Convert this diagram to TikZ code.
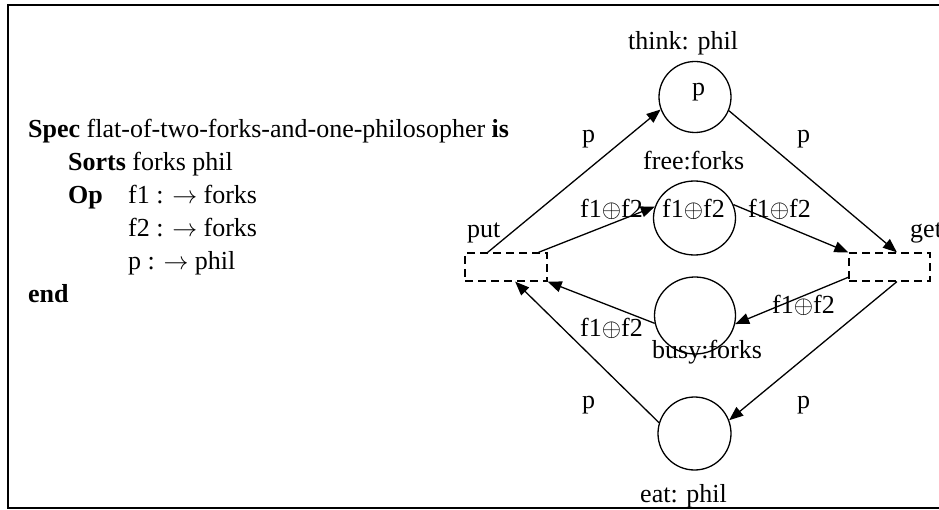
\documentclass[tikz,border=0pt]{standalone}
\usepackage{fontspec}
\setmainfont{Liberation Serif}
\usetikzlibrary{arrows.meta,shapes.geometric,calc}
\begin{document}
\begin{tikzpicture}[x=1pt,y=-1pt,
  txt/.style={font=\fontsize{26}{31}\selectfont, inner sep=0pt, anchor=base west},
  place/.style={draw, ellipse, line width=1.3pt, inner sep=0pt},
  trans/.style={draw, rectangle, line width=1.3pt, dash pattern=on 8pt off 5pt, inner sep=0pt, minimum height=28pt},
  arc/.style={line width=1.3pt, -{Triangle[length=14pt,width=11pt]}}]
\useasboundingbox (0,0) rectangle (939,510);
\clip (0,0) rectangle (939,510);
\draw[line width=2pt] (8,5) rectangle (960,508);

% places
\node[place, minimum width=72pt, minimum height=71pt] (think) at (695,97) {};
\node[place, minimum width=82pt, minimum height=74pt] (free) at (694.5,218) {};
\node[place, minimum width=81pt, minimum height=77pt] (busy) at (695,315.5) {};
\node[place, minimum width=73pt, minimum height=73pt] (eat) at (694.5,433.5) {};

% transitions
\node[trans, minimum width=82pt] (put) at (506,267) {};
\node[trans, minimum width=81pt] (get) at (889.5,267) {};

% arcs
\draw[arc] ($(put.north west)!0.28!(put.north east)$) -- (think.200);
\draw[arc] ($(put.north west)!0.89!(put.north east)$) -- (free.164);
\draw[arc] (think.338) -- ($(get.north west)!0.59!(get.north east)$);
\draw[arc] (free.19) -- (get.north west);
\draw[arc] ($(get.west)!0.7!(get.south west)$) -- (busy.348);
\draw[arc] (busy.191) -- (put.south east);
\draw[arc] (eat.163) -- ($(put.south west)!0.61!(put.south east)$);
\draw[arc] ($(get.south west)!0.59!(get.south east)$) -- (eat.21);

% labels
\node[txt] (lthink) at (628,50) {think: phil};
\node[txt] (ptok) at (692,96) {p};
\node[txt] (lp1) at (582,143) {p};
\node[txt] (lp2) at (797,143) {p};
\node[txt] (lfree) at (643,170) {free:forks};
\node[txt] (w1) at (580,218) {f1${\oplus}$f2};
\node[txt] (w2) at (662,218) {f1${\oplus}$f2};
\node[txt] (w3) at (748,218) {f1${\oplus}$f2};
\node[txt] (lput) at (467,238) {put};
\node[txt] (lget) at (910,238) {get};
\node[txt] (w4) at (772,313) {f1${\oplus}$f2};
\node[txt] (w5) at (580,337) {f1${\oplus}$f2};
\node[txt] (lbusy) at (652,359) {busy:forks};
\node[txt] (lp3) at (582,408) {p};
\node[txt] (lp4) at (797,408) {p};
\node[txt] (leat) at (640,502) {eat: phil};

% specification
\node[txt] (s1) at (28,138) {\textbf{Spec} flat-of-two-forks-and-one-philosopher \textbf{is}};
\node[txt] (s2) at (68,171) {\textbf{Sorts} forks phil};
\node[txt] (s3) at (68,204) {\textbf{Op}};
\node[txt] (s4) at (128,204) {f1 : $\rightarrow$ forks};
\node[txt] (s5) at (128,237) {f2 : $\rightarrow$ forks};
\node[txt] (s6) at (128,270) {p : $\rightarrow$ phil};
\node[txt] (s7) at (28,303) {\textbf{end}};
\end{tikzpicture}
\end{document}
